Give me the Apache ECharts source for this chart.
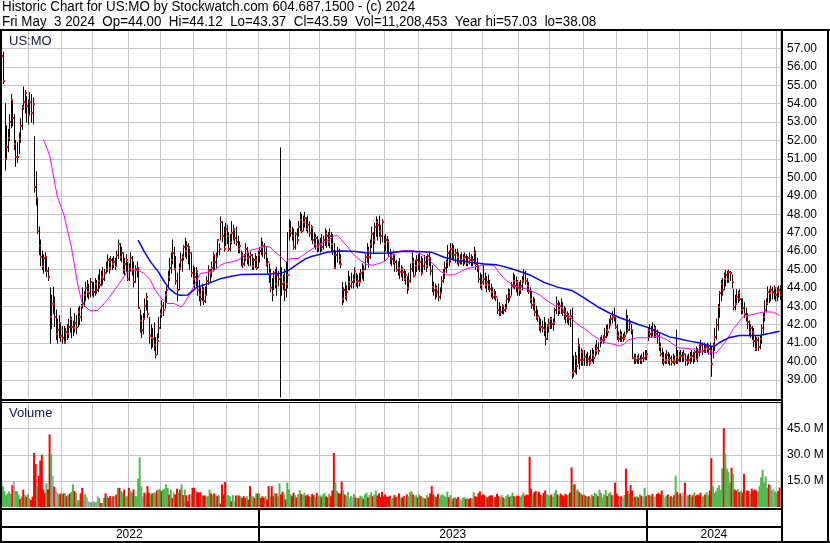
<!DOCTYPE html>
<html><head><meta charset="utf-8">
<script src="https://cdn.jsdelivr.net/npm/echarts/dist/echarts.min.js"></script>
<style>html,body{margin:0;padding:0;background:#fff}#c{width:830px;height:543px}</style>
</head><body><div id="c"></div>
<script>
// ---------- DATA ----------
const symbol = 'US:MO';
const headerLine1 = 'Historic Chart for US:MO by Stockwatch.com 604.687.1500 - (c) 2024';
const headerLine2 = 'Fri May  3 2024  Op=44.00  Hi=44.12  Lo=43.37  Cl=43.59  Vol=11,208,453  Year hi=57.03  lo=38.08';
const yearLabels = ['2022', '2023', '2024'];
const firstDay = '2022-05-02', lastDay = '2024-05-03';
const holidays = ['2022-05-30','2022-06-20','2022-07-04','2022-09-05','2022-11-24','2022-12-26',
  '2023-01-02','2023-01-16','2023-02-20','2023-04-07','2023-05-29','2023-06-19','2023-07-04','2023-09-04','2023-11-23','2023-12-25',
  '2024-01-01','2024-01-15','2024-02-19','2024-03-29'];

const highs = [
 56.9,57.0,56.6,57.03,56.8,54.0,52.8,52.6,53.4,54.5,54.2,53.4,52.0,51.9,52.4,53.2,53.9,54.9,54.7,54.4,54.2,
 54.6,54.5,54.3,52.2,50.3,48.8,47.3,46.6,46.0,45.8,45.9,45.7,45.1,44.0,43.6,44.05,43.5,42.8,42.3,42.5,42.0,
 41.9,41.9,41.8,42.0,42.3,42.9,42.4,42.2,42.6,42.5,42.9,43.0,43.1,44.0,43.8,44.3,44.4,44.2,44.5,44.3,
 44.3,44.5,44.4,44.7,45.0,44.9,45.1,45.0,45.4,45.8,45.6,45.7,45.6,45.7,45.6,46.0,46.6,46.4,46.2,45.9,45.6,45.8,45.4,
 45.3,45.9,45.7,45.4,45.2,45.4,45.1,42.8,42.5,42.6,43.4,43.7,43.3,42.4,42.0,41.8,42.1,41.3,41.5,42.4,42.8,
 43.3,43.2,43.8,44.05,44.9,45.6,45.9,46.6,46.2,45.7,44.8,45.3,45.9,45.8,46.3,46.7,46.5,46.4,46.1,45.9,45.2,
 45.1,45.1,44.8,44.4,44.0,44.2,44.0,44.05,44.6,45.2,45.0,45.4,45.9,45.7,45.9,46.6,46.4,47.85,47.6,47.3,47.5,
 47.4,47.0,46.9,47.6,47.4,47.1,47.3,46.8,46.5,46.0,45.9,45.8,46.4,46.2,45.9,45.95,45.8,45.6,45.85,45.7,46.0,
 46.2,46.7,46.5,46.4,46.2,45.6,45.3,45.0,44.5,44.9,45.0,45.1,44.9,51.6,45.1,44.7,45.0,45.4,47.0,47.7,
 47.6,47.3,47.2,47.0,47.2,47.6,48.1,48.0,47.9,48.1,47.8,47.9,47.6,47.4,47.2,47.0,46.9,46.8,46.6,
 46.7,46.9,46.8,47.2,47.1,47.0,47.2,47.0,46.9,46.4,46.0,46.2,46.1,45.8,44.3,44.0,44.3,44.1,44.9,44.6,44.8,44.7,45.1,
 44.8,44.7,44.8,45.0,45.3,45.2,45.8,46.4,46.2,46.6,47.3,47.0,47.5,47.85,47.7,47.9,47.4,47.7,46.8,
 46.9,46.8,46.6,46.1,45.9,46.0,45.8,45.5,45.4,45.6,45.2,45.1,45.0,44.9,44.6,44.8,45.3,45.9,45.6,45.5,45.75,45.8,
 45.9,45.7,45.6,45.75,45.7,45.8,45.9,45.6,45.2,44.3,44.2,44.1,44.2,44.0,44.6,45.0,45.4,45.5,46.3,46.0,46.4,
 46.4,46.3,46.1,46.1,45.9,45.8,45.9,45.8,45.9,45.8,45.7,45.9,45.8,45.7,46.2,46.0,45.6,45.2,44.8,44.7,
 45.2,44.8,44.6,44.7,44.4,44.2,44.0,43.9,43.8,43.4,43.2,43.0,43.1,43.0,43.1,43.6,43.95,43.9,44.3,44.8,44.7,44.6,44.4,
 44.3,44.4,44.6,45.0,44.9,44.5,44.3,44.0,43.8,43.5,43.4,43.0,42.8,42.4,42.3,42.2,42.4,42.1,42.0,42.3,
 42.4,42.4,42.3,42.9,43.5,43.3,43.2,43.4,43.2,43.0,42.9,42.7,42.6,42.8,42.9,40.3,40.5,40.3,41.25,40.8,40.7,40.6,
 40.6,40.4,40.5,40.3,40.6,40.7,40.6,40.9,41.15,41.0,41.3,41.4,41.4,41.8,41.96,42.0,42.3,42.5,42.7,42.9,42.5,
 42.0,41.6,41.7,41.6,41.5,41.6,42.8,42.5,42.3,42.0,41.7,40.4,40.4,40.3,40.4,40.3,40.4,40.5,40.6,40.6,
 41.8,42.0,41.9,42.1,42.0,41.9,41.7,41.5,41.0,40.7,40.5,40.4,40.6,40.5,40.4,40.3,40.4,40.3,41.7,40.6,40.5,
 40.6,40.5,40.6,40.4,40.3,40.4,40.5,40.6,40.5,40.6,40.8,40.7,40.9,41.15,41.0,41.0,40.9,41.0,40.9,41.0,
 40.8,41.0,41.8,42.3,43.1,43.8,44.4,44.5,44.8,44.95,44.9,44.95,44.9,44.7,43.9,43.6,43.9,43.8,43.9,43.4,
 43.4,43.2,42.9,42.6,42.2,42.0,41.9,41.8,41.4,41.3,41.3,41.4,42.0,42.6,43.3,43.4,44.05,43.9,44.1,44.05,44.1,44.0,
 44.0,44.1,44.12
];
const lows = [
 55.8,56.0,55.6,55.8,55.1,50.4,51.0,51.4,52.0,52.7,52.8,51.5,50.6,50.8,51.3,51.9,52.6,53.7,53.5,53.0,52.9,
 53.4,53.0,52.9,49.2,48.5,46.95,45.8,45.2,45.0,44.8,44.9,44.6,44.4,41.0,41.8,42.6,41.9,41.2,41.0,41.3,41.1,
 41.0,41.0,41.0,41.2,41.3,41.6,41.3,41.4,41.6,41.5,41.9,42.0,42.2,42.9,43.0,43.3,43.5,43.4,43.5,43.6,
 43.5,43.6,43.7,43.8,44.0,44.1,44.2,44.4,44.8,44.9,44.8,45.0,45.0,45.1,45.0,45.2,45.6,45.5,45.4,44.8,44.7,44.9,44.4,
 44.4,44.9,44.7,44.05,44.3,44.6,42.9,41.6,41.3,41.5,42.4,42.8,42.4,41.0,40.7,40.8,40.6,40.2,40.4,41.3,41.8,
 42.4,42.5,42.9,43.2,44.0,44.4,44.8,45.3,45.0,44.2,43.3,43.9,45.0,44.9,45.5,45.7,45.6,45.3,45.0,44.6,44.2,
 44.0,44.1,43.6,43.3,43.05,43.3,43.1,43.2,43.6,44.2,44.3,44.6,44.9,45.0,45.1,45.7,45.8,46.6,46.5,46.0,46.3,
 46.4,46.0,46.0,46.4,46.6,46.4,46.3,45.9,45.9,45.2,45.1,45.2,45.5,45.3,45.2,45.2,45.0,45.0,45.1,45.0,45.1,
 45.4,45.8,45.7,45.6,45.2,44.8,44.3,43.8,43.3,43.9,44.0,43.6,44.1,38.08,43.6,43.9,43.3,43.5,44.0,46.6,
 46.8,46.6,46.1,46.1,46.4,46.8,47.1,47.0,47.1,47.3,47.1,47.0,46.8,46.6,46.4,46.2,46.1,45.95,46.0,
 45.95,46.0,46.1,46.3,46.2,46.3,46.2,46.0,45.8,45.05,45.1,45.4,45.3,45.1,43.1,43.2,43.4,43.3,43.9,43.9,44.0,44.0,44.3,
 44.1,44.0,44.1,44.3,44.5,44.4,45.0,45.4,45.1,45.6,46.2,45.9,46.4,46.8,46.6,46.8,46.4,46.5,45.5,
 46.0,45.9,45.7,45.3,45.2,45.3,44.9,44.9,44.7,44.5,44.6,44.4,44.4,44.2,43.7,43.9,44.3,44.9,44.6,44.7,44.9,45.0,
 44.9,44.7,44.8,45.0,44.9,45.1,45.2,44.7,43.8,43.6,43.4,43.5,43.3,43.4,43.7,44.3,44.5,44.85,45.1,45.2,45.4,
 45.6,45.5,45.4,45.3,45.2,45.3,45.3,45.2,45.3,45.2,45.2,45.3,45.2,45.2,45.3,45.0,44.9,44.3,44.0,43.9,
 44.2,44.0,43.8,43.9,43.8,43.5,43.4,43.4,43.3,42.6,42.5,42.5,42.6,42.6,42.7,42.9,43.2,43.3,43.6,44.0,43.95,43.8,43.6,
 43.6,43.7,43.9,44.3,44.2,43.8,43.7,43.2,42.9,42.8,42.5,42.3,42.2,41.7,41.6,41.6,41.4,40.9,41.2,41.6,
 41.8,41.8,41.7,42.0,42.6,42.5,42.6,42.6,42.5,42.3,42.1,42.1,42.0,41.9,39.1,39.2,39.4,39.3,39.9,39.6,39.8,39.8,
 39.8,39.8,39.8,39.8,39.9,40.0,39.9,40.3,40.4,40.4,40.8,41.0,41.0,41.15,41.3,41.4,41.8,41.96,42.1,42.2,41.8,
 41.2,41.1,41.1,41.1,41.1,41.2,41.5,41.6,41.7,41.5,40.2,39.9,39.9,39.9,39.9,39.9,39.9,40.0,40.1,40.1,
 41.15,41.3,41.3,41.4,41.3,41.3,41.0,40.6,40.3,39.9,39.8,39.9,39.9,39.9,39.8,39.8,39.9,39.8,39.9,39.9,40.0,
 40.0,40.0,40.0,39.8,39.8,39.9,39.9,40.0,39.9,40.0,40.1,40.0,40.3,40.5,40.4,40.5,40.5,40.5,40.4,40.4,
 39.2,40.2,40.6,41.2,41.7,42.4,43.3,43.6,43.9,44.1,44.3,44.3,44.4,44.0,42.8,42.8,43.14,43.2,43.3,42.6,
 42.6,42.4,42.2,41.8,41.4,41.3,41.2,40.8,40.6,40.6,40.6,40.7,41.0,41.5,42.2,42.7,43.1,43.2,43.3,43.4,43.4,43.3,
 43.3,43.5,43.37
];
const closes = [
 56.5,56.7,55.9,56.6,55.25,51.0,51.65,52.15,53.0,54.2,53.2,51.8,51.1,51.1,52.1,52.8,53.8,54.1,54.6,53.9,53.4,
 54.1,53.5,54.0,49.5,48.9,47.1,46.3,45.7,45.2,45.6,45.7,44.9,44.6,42.4,43.1,43.15,42.4,41.5,41.7,42.1,41.4,
 41.3,41.05,41.6,41.5,41.9,42.3,41.9,41.8,42.1,41.9,42.7,42.4,43.0,43.2,43.6,44.0,43.8,43.7,44.3,43.9,
 43.8,44.2,43.9,44.4,44.15,44.6,44.5,44.8,45.05,45.5,45.1,45.5,45.3,45.4,45.2,45.8,46.4,45.7,45.9,44.96,45.3,45.5,44.5,
 45.0,45.6,45.05,44.3,45.05,45.1,42.9,42.2,41.7,42.3,43.0,43.5,42.6,41.4,41.3,41.2,40.9,40.33,41.1,41.8,42.6,
 43.0,42.8,43.6,43.9,44.6,45.1,45.5,45.9,45.0,44.4,43.9,45.1,45.5,45.7,46.2,46.0,46.3,46.2,45.9,44.8,44.5,
 44.6,44.9,43.9,43.6,43.4,43.9,43.3,43.6,44.4,44.96,44.8,45.1,45.8,45.4,45.7,46.6,46.1,47.6,46.8,46.1,47.2,
 46.8,46.1,46.5,47.0,47.2,46.7,46.5,46.1,46.3,45.8,45.3,45.6,46.1,45.6,45.7,45.8,45.2,45.5,45.5,45.1,45.8,
 46.0,46.2,46.3,45.9,45.3,45.4,44.8,44.0,43.6,44.8,44.2,44.7,44.5,44.6,44.2,44.3,43.9,44.2,44.7,47.2,
 47.0,46.8,46.2,46.9,46.6,47.3,47.7,47.1,47.6,47.8,47.2,47.4,47.0,47.3,46.6,46.4,46.7,46.2,46.4,
 46.4,46.2,46.6,46.9,46.8,46.5,46.8,46.4,46.0,45.1,45.8,46.0,45.5,45.3,43.4,43.9,43.5,43.8,44.3,44.1,44.3,44.5,44.9,
 44.3,44.4,44.3,44.8,44.9,45.0,45.7,46.0,45.7,46.4,46.95,46.6,47.3,47.6,47.4,47.1,46.8,47.6,46.4,
 46.6,46.5,45.9,45.75,45.55,45.8,45.4,44.95,45.1,44.85,45.0,44.85,44.5,44.7,44.0,44.4,45.0,45.4,44.65,45.2,45.5,45.3,
 45.4,44.8,45.2,45.4,45.2,45.75,45.6,44.9,44.04,43.9,44.0,43.8,43.5,43.7,44.4,44.8,45.1,45.4,45.9,45.5,46.1,
 46.1,45.8,45.9,45.7,45.4,45.5,45.45,45.6,45.7,45.35,45.6,45.5,45.4,45.5,45.9,45.3,45.1,44.5,44.15,44.3,
 44.5,44.15,44.3,44.15,43.95,43.8,43.5,43.6,43.5,42.8,42.7,42.7,43.0,42.8,42.9,43.4,43.8,43.5,44.1,44.4,44.1,44.3,44.0,
 43.9,44.1,44.4,44.8,44.4,44.1,43.85,43.4,43.05,43.2,42.7,42.4,42.5,41.95,41.9,41.8,41.7,41.2,41.95,42.1,
 42.3,42.05,42.1,42.8,43.1,42.8,43.0,42.9,42.7,42.6,42.5,42.4,42.3,42.5,39.4,39.5,40.2,39.75,40.9,40.06,40.5,40.1,
 40.24,39.88,40.15,39.9,40.1,40.33,40.2,40.6,40.75,40.6,41.1,41.15,41.2,41.33,41.7,41.6,42.0,42.3,42.4,42.4,41.9,
 41.4,41.24,41.42,41.3,41.24,41.4,42.3,41.7,42.1,41.7,40.2,40.2,40.1,40.2,40.15,40.1,40.2,40.2,40.3,40.4,
 41.7,41.5,41.6,41.7,41.8,41.5,41.4,40.8,40.4,40.2,39.97,40.1,40.33,40.06,40.2,39.97,40.1,40.0,40.24,40.06,40.3,
 40.3,40.24,40.4,40.06,40.0,40.1,40.24,40.3,40.2,40.5,40.15,40.5,40.6,40.88,40.6,40.7,40.8,40.7,40.7,40.6,
 39.88,40.9,41.33,42.0,42.96,43.7,44.2,43.9,44.5,44.7,44.5,44.86,44.8,44.3,42.96,43.1,43.5,43.7,43.4,42.8,
 42.9,42.6,42.4,42.15,41.6,41.8,41.6,41.1,40.7,41.15,40.8,41.2,41.8,42.4,42.8,43.2,43.8,43.7,43.9,43.75,44.0,43.6,
 43.8,43.9,43.59
];
// volume in millions of shares
const volumes = [
 8.6,16,24.7,15,11.7,9,6.8,7.8,9,7.5,12.5,14.6,9.2,9.2,7.2,4.5,6,10,7,6,7.2,
 5,4,6,31,24.7,12,18,26.7,30,10,8,13.6,10,41.7,30.5,18,11.7,9.2,8.2,7.2,7.8,
 7.2,7.8,7.8,6.2,7,7.8,8.6,13,9.2,8.2,3.9,3.9,7.8,11,6.2,7.4,5.4,3.3,2.7,2.7,
 3.5,2.7,3.1,6.2,5.2,2.3,2.3,5.2,7.8,6.2,5.2,6.2,5.2,6.2,6.2,7.2,11,11,9.2,8.2,10,6.2,6.2,
 11,9.2,8.2,10,6.2,6.2,16.3,28.6,12,6.2,8.2,7.2,12,8.2,7.2,7.8,8.2,8.2,9.5,10,10.5,
 9.2,10,10.5,13,11,7.2,10,5.2,8.2,7.2,10.5,8.2,10,13,6.8,10,6.8,3.3,7.2,7.2,11,
 11,7.6,8.8,8.2,8.5,6.8,6.6,6.6,6,6.2,10,7.8,6.8,7.8,6.8,6.2,6.8,2,13,7.2,14.4,
 6.8,6.8,6.2,3.3,6.8,3.3,6.6,6.6,6.6,6.2,5.2,6.2,5.2,6.2,4.3,12,6.2,6.2,5.2,7.8,7.8,
 7.8,5.2,6.2,5.2,6.2,4.3,12,6.2,12,6.2,7.8,7.8,6.2,13.6,7.2,8.8,7.2,4.3,14,10,
 7.5,6.2,8.2,6.8,5.5,7.2,9.8,7.5,6.8,8.2,6.5,7.2,6.2,5.8,7.5,6.8,5.5,8.2,6.2,
 6.8,5.9,7.2,8.1,6,5.5,7.5,6.2,9.5,31,14,9.2,8,7.6,14.6,9.5,7.2,6.5,8.5,5.2,6.2,5.5,7.5,
 5.5,4.8,5.2,6.5,6,4.8,7.2,8.2,5.5,6.8,8.5,6.2,7.2,9.5,6.6,7.8,5.8,8.6,6.2,
 7.2,6,5.8,6.5,4.5,5.2,6.8,5.6,6.2,7.8,5.1,5.5,6.2,5,7.2,6.1,8.5,9,7.2,6,6.8,5.5,
 7.2,6.2,5.5,5.2,4.8,6.8,5.5,7.8,12,7.2,6.2,5.8,7.5,5.2,6.8,7.2,6.5,5.8,8.8,5.6,6.8,
 3.8,5.2,5.5,4.8,5.8,4.5,3.9,5.2,5.8,4.6,5.1,4.5,5.2,4.8,8.5,6.2,5.8,7.8,9,6.5,
 7.2,6.8,5.9,5.5,6.2,6.8,6.6,5.2,5.8,7.5,6.2,5.5,6.8,5.5,4.9,6.5,7.2,5.8,6.5,8.2,6.2,5.8,6.6,
 6.2,5.8,6.8,8.2,6.5,7.2,6.8,28.8,10.5,7.2,8.6,9.2,7.8,8.8,7.2,6.2,8.2,9.5,7.5,6.8,
 6.5,7.2,5.8,8.2,9.8,7.2,6.2,7.8,6.8,6.2,7.5,6.8,7.2,8.2,22.7,13,13,9.5,10.2,8.5,7.8,6.9,
 7.2,6.5,5.8,6.2,5.5,7.2,6.2,8.2,7.5,6.2,10,8.2,5.5,7.2,9.8,6.2,7.8,8.5,6.8,7.2,14,
 7.8,6.5,5.8,6.2,5.2,6.8,22,9.2,7.5,12.6,9.5,6.2,5.8,6.2,5.5,7.2,6.5,5.8,11,6.2,
 7.2,6.8,6.2,7.5,5.8,6.2,7.5,8.2,7.2,9.5,6.8,5.5,6.6,7.2,5.8,6.2,5.5,6.8,18,8.5,7.2,
 7.8,6.2,8.5,14,7.2,6.5,7.2,5.8,6.8,8.2,6.5,7.2,6.8,8.2,5.8,6.2,7.2,8.5,6.8,9.5,
 28,12,8,9,11,12.5,10,22,45.3,30.7,22,20,14,22.6,19,10,9.5,10.2,8.5,9.2,
 8.2,19,8,9.5,9.2,7.5,10.5,9.5,10,9.5,8.5,12,17,21.4,14,17.5,11,13,12.5,9.5,10.5,9,
 8,9.2,11.21
];
// volume bar colour: r = down, g = up, n = unchanged
const volDir =
 'nrrgggggggrngggrgrgrg' + 'grrrrgrrrrrgrrgnrnngr' + 'grgrgrggrgggrrggnnng' + 'ngnngrggrgrrgrnrgrggrgg' +
 'rggrgggggnrgrrgrggrgg' + 'rggggrgrgrrgrgrgrrrnr' + 'rgrrrgrrgggrgrgrgrrrr' + 'gggrgnrgrgrrrgrrggrgr' +
 'grrrgrrgrrgrggrrgrgg' + 'grrgrggrggrrrgrrgrg' + 'grggrrgrrrggrrrgrggngng' + 'rgrggrggrggrggrrrrr' +
 'rrrrggrrgrgrrgrgggrggr' + 'grggrgrrrrgrrggggggrg' + 'grgrrnnggrgrrggrrrrr' + 'rrgrrrrgrrrggrgggrggrgr' +
 'rgggrrrrrgrrgrrgrrgg' + 'grgggrgrrrrrgrrgrggrgr' + 'grgrggrggrgggggrggrnr' + 'rrgrngrrgrrgrgrgrngr' +
 'grgrgnrrrrgngrgrgrgrg' + 'rgnrngrgrgrrrrggrggr' + 'rgggggggrggggrgrrgrg' + 'rrgrrgrrrrgggggggrggng' + 'grr';

// moving averages: [trading-day index, price]
const maShort = [[30,52.06],[34,51.21],[36,50.3],[39,48.94],[43,48.04],[48,46.22],[52,44.23],[55,43.15],[60,42.75],[65,42.78],
 [71,43.33],[78,44.14],[84,44.87],[91,44.96],[95,44.78],[99,44.41],[102,43.87],[106,43.42],[110,43.15],[114,43.15],[119,42.96],[124,43.6],
 [127,44.14],[131,44.77],[136,44.86],[140,44.95],[144,45.23],[147,45.35],[151,45.41],[155,45.5],[160,45.77],[163,46.04],
 [168,46.13],[172,46.26],[176,46.22],[179,45.95],[183,45.68],[186,45.41],[189,45.59],[194,45.59],[197,45.77],[200,45.95],
 [205,46.22],[209,46.4],[213,46.59],[218,46.86],[220,46.8],[223,46.49],[226,46.22],[229,45.86],[234,45.5],[238,45.28],
 [242,45.23],[247,45.35],[250,45.46],[253,45.75],[257,45.97],[262,46.02],[268,46.02],[273,45.84],[276,45.66],[281,45.3],
 [285,44.94],[289,44.71],[294,44.7],[298,44.85],[302,45.03],[307,45.12],[311,45.21],[315,45.25],[320,45.22],[324,44.76],
 [328,44.4],[333,44.13],[337,44.04],[341,43.95],[346,43.77],[350,43.59],[354,43.32],[359,43.05],[363,42.96],[367,42.6],
 [371,42.24],[375,41.96],[379,41.74],[383,41.47],[388,41.2],[392,41.02],[396,40.96],[401,40.84],[404,40.96],[407,41.2],
 [412,41.29],[418,41.29],[426,41.38],[431,41.2],[435,40.96],[439,40.74],[446,40.7],[450,40.68],[454,40.56],[459,40.47],
 [463,40.47],[467,40.84],[470,41.2],[474,41.74],[478,42.19],[481,42.47],[487,42.56],[491,42.65],[496,42.7],[500,42.68],[504,42.5]];
const maLong = [[91,46.59],[95,45.95],[99,45.41],[104,44.87],[108,44.32],[111,43.96],[115,43.69],[118,43.6],[123,43.62],[129,44.05],
 [136,44.23],[144,44.5],[151,44.63],[157,44.72],[166,44.74],[175,44.74],[179,44.77],[183,44.8],[188,44.96],[194,45.32],
 [199,45.59],[203,45.72],[207,45.8],[213,45.95],[222,46.0],[231,45.98],[238,45.9],[244,45.88],[252,45.9],[262,45.99],
 [272,45.98],[280,45.93],[288,45.66],[296,45.48],[305,45.39],[314,45.3],[322,45.25],[328,45.12],[335,44.94],[344,44.67],
 [352,44.31],[361,44.04],[370,43.86],[375,43.62],[381,43.3],[388,42.92],[394,42.65],[401,42.38],[407,42.2],[413,42.01],
 [420,41.83],[426,41.6],[433,41.34],[439,41.24],[446,41.11],[452,41.02],[459,40.84],[462,40.82],[465,41.02],[471,41.29],
 [478,41.42],[491,41.42],[497,41.52],[504,41.65]];

// ---------- BUILD ----------
function tradingDays(a, b, hol) {
  const set = new Set(hol), out = [];
  const p = s => { const [y,m,d] = s.split('-').map(Number); return Date.UTC(y, m-1, d); };
  for (let t = p(a); t <= p(b); t += 86400000) {
    const d = new Date(t), wd = d.getUTCDay(), s = d.toISOString().slice(0,10);
    if (wd !== 0 && wd !== 6 && !set.has(s)) out.push(s);
  }
  return out;
}
const dates = tradingDays(firstDay, lastDay, holidays);
const N = dates.length;
const monthStart = dates.map((d,i) => i > 0 && d.slice(0,7) !== dates[i-1].slice(0,7));

const FONT = '"Liberation Sans", Arial, sans-serif';
const GRID_L = -4, GRID_W = 784.5, GRID_R = 781;
const dirColor = { r: '#ff0000', g: '#4fb84f', n: '#a6a6a6' };

const chart = echarts.init(document.getElementById('c'), null, { renderer: 'canvas', width: 830, height: 543 });

const xAx = g => ({
  type: 'category', gridIndex: g, data: dates, boundaryGap: true,
  axisLine: { show: false }, axisTick: { show: false }, axisLabel: { show: false },
  splitLine: { show: true, interval: (i) => monthStart[i], lineStyle: { color: '#c6c6c6', width: 1 } }
});
const ohlcData = dates.map((d,i) => [i, highs[i], lows[i], closes[i]]);

const option = {
  animation: false,
  backgroundColor: '#ffffff',
  grid: [
    { left: GRID_L, top: 30, width: GRID_W, height: 368.4, containLabel: false, outerBoundsMode: 'none' },
    { left: GRID_L, top: 402.5, width: GRID_W, height: 104.5, containLabel: false, outerBoundsMode: 'none' }
  ],
  xAxis: [xAx(0), xAx(1)],
  yAxis: [
    { type: 'value', gridIndex: 0, position: 'right', offset: GRID_R - (GRID_L + GRID_W), min: 38, max: 58, interval: 1,
      axisLine: { show: false }, axisTick: { show: false },
      axisLabel: { margin: 6, fontSize: 12, color: '#000', fontFamily: FONT,
        formatter: v => (v <= 38 || v >= 58) ? '' : v.toFixed(2) },
      splitLine: { showMinLine: false, showMaxLine: false, lineStyle: { color: '#c6c6c6', width: 1 } } },
    { type: 'value', gridIndex: 1, position: 'right', offset: GRID_R - (GRID_L + GRID_W), min: 0, max: 60, interval: 15,
      axisLine: { show: false }, axisTick: { show: false },
      axisLabel: { margin: 6, fontSize: 12, color: '#000', fontFamily: FONT,
        formatter: v => (v <= 0 || v >= 60) ? '' : v.toFixed(1) + ' M' },
      splitLine: { showMinLine: false, showMaxLine: false, lineStyle: { color: '#c6c6c6', width: 1 } } }
  ],
  series: [
    { type: 'bar', xAxisIndex: 1, yAxisIndex: 1, barWidth: 2, barGap: '-100%',
      data: volumes.map((v,i) => ({ value: v, itemStyle: { color: dirColor[volDir[i]] || '#a6a6a6' } })) },
    { type: 'custom', xAxisIndex: 0, yAxisIndex: 0, clip: true, z: 2, data: ohlcData,
      renderItem: (params, api) => {
        const i = api.value(0);
        const h = api.coord([i, api.value(1)]), l = api.coord([i, api.value(2)]);
        const x = Math.round(h[0]) + 0.5;
        return { type: 'line', shape: { x1: x, y1: h[1] - 0.5, x2: x, y2: l[1] + 0.5 },
                 style: { stroke: '#000', lineWidth: 1 } };
      } },
    { type: 'custom', xAxisIndex: 0, yAxisIndex: 0, clip: true, z: 3, data: ohlcData,
      renderItem: (params, api) => {
        const i = api.value(0);
        const c = api.coord([i, api.value(3)]);
        const x = Math.round(c[0]);
        return { type: 'rect', shape: { x: x, y: Math.round(c[1]) - 1, width: 2, height: 2 },
                 style: { fill: '#ff0000' } };
      } },
    { type: 'line', xAxisIndex: 0, yAxisIndex: 0, data: maShort, symbol: 'none', z: 4,
      lineStyle: { color: '#ff00ff', width: 1 } },
    { type: 'line', xAxisIndex: 0, yAxisIndex: 0, data: maLong, symbol: 'none', z: 4,
      lineStyle: { color: '#0000ff', width: 1.5 } }
  ]
};
chart.setOption(option);

// frame, header texts and year row
const band = GRID_W / N;
const boundary = idx => chart.convertToPixel({ xAxisIndex: 1 }, dates[idx]) - band / 2;
const yearEdges = yearLabels.map((y, k) => k === 0 ? 0 : boundary(dates.findIndex(d => d.startsWith(y))));
yearEdges.push(GRID_R);
const L = (x1,y1,x2,y2,w) => ({ type: 'line', z: 100, silent: true, shape: { x1, y1, x2, y2 }, style: { stroke: '#000', lineWidth: w } });
const T = (x, y, text, size, extra) => Object.assign({ type: 'text', z: 101, silent: true, x, y,
  style: { text, font: size + 'px ' + FONT, fill: '#000', verticalAlign: 'middle' } }, extra || {});
const graphics = [
  T(2, 7, headerLine1, 14, { scaleX: 0.955 }),
  T(2, 22.5, headerLine2, 14, { scaleX: 0.955 }),
  L(0, 30, 830, 30, 2),
  L(1, 29, 1, 543, 2),
  L(782, 29, 782, 542, 2),
  L(828, 29, 828, 543, 2),
  L(0, 400, 781, 400, 2),
  L(0, 402.5, 781, 402.5, 1),
  L(0, 509, 781, 509, 2),
  L(0, 527, 781, 527, 2),
  L(0, 542, 830, 542, 2),
  { type: 'text', z: 101, x: 9, y: 41.5, style: { text: symbol, font: '13px ' + FONT, fill: '#14144a', verticalAlign: 'middle' } },
  { type: 'text', z: 101, x: 9, y: 413, style: { text: 'Volume', font: '13px ' + FONT, fill: '#14144a', verticalAlign: 'middle' } }
];
for (let k = 1; k < yearLabels.length; k++) {
  const x = Math.round(yearEdges[k]);
  graphics.push(L(x, 509, x, 542, 2));
}
yearLabels.forEach((y, k) => {
  graphics.push({ type: 'text', z: 101, x: (yearEdges[k] + yearEdges[k+1]) / 2, y: 535,
    style: { text: y, font: '12px ' + FONT, fill: '#000', align: 'center', verticalAlign: 'middle' } });
});
chart.setOption({ graphic: graphics });
</script>
</body></html>
